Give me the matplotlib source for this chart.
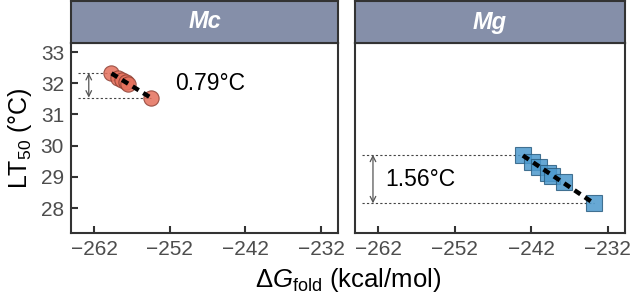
import numpy as np
import matplotlib
matplotlib.use("Agg")
from matplotlib import pyplot as plt

plt.rcParams['font.family'] = ['Liberation Sans', 'DejaVu Sans']
plt.rcParams['mathtext.fontset'] = 'custom'
plt.rcParams['mathtext.rm'] = 'Liberation Sans'
plt.rcParams['mathtext.it'] = 'Liberation Sans:italic'

# Data
panels = ['Mc', 'Mg']
mc_dg = [-259.7, -258.8, -258.3, -257.8, -257.5, -254.5]
mc_lt = [32.33, 32.17, 32.10, 32.03, 31.99, 31.54]
mg_dg = [-243.1, -241.9, -241.0, -239.8, -239.3, -237.7, -233.8]
mg_lt = [29.71, 29.48, 29.32, 29.12, 29.04, 28.82, 28.15]
ranges = ['0.79°C', '1.56°C']
x_ticks = [-262, -252, -242, -232]
y_ticks = [28, 29, 30, 31, 32, 33]

W, H = 630, 298
fig = plt.figure(figsize=(W / 100, H / 100), dpi=100)


def px_box(x0, y0, x1, y1):
    """Pixel box (top-left origin) to figure fraction"""
    return [x0 / W, 1 - y1 / H, (x1 - x0) / W, (y1 - y0) / H]


border = '#333333'
strip_col = '#858FA9'
panel_x = [(71, 338), (355, 625)]
series = [(mc_dg, mc_lt, 'o', '#E5705C', '#8E4135', 11),
          (mg_dg, mg_lt, 's', '#4C99CD', '#2C5F82', 11)]
text_pos = [(-251.3, 32.0), (-261.1, 28.9)]

for i, (x0, x1) in enumerate(panel_x):
    ax = fig.add_axes(px_box(x0, 43, x1, 233))
    dg, lt, mk, fc, ec, ms = series[i]

    # regression line
    k, b = np.polyfit(dg, lt, 1)
    xs = np.array([min(dg), max(dg)])
    ax.plot(xs, k * xs + b, color='black', lw=3.2, ls=(0, (1.6, 1.2)), zorder=4)

    ax.plot(dg, lt, ls='none', marker=mk, ms=ms, mfc=fc, mec=ec, mew=0.8,
            alpha=0.85, zorder=3)

    # range markers
    top, bot = max(lt), min(lt)
    x_top = dg[lt.index(top)]
    x_bot = dg[lt.index(bot)]
    ax.plot([-264.1, x_top], [top, top], color='#444444', lw=0.8, ls=(0, (2, 2)), zorder=1)
    ax.plot([-264.1, x_bot], [bot, bot], color='#444444', lw=0.8, ls=(0, (2, 2)), zorder=1)
    ax.annotate('', xy=(-262.7, top), xytext=(-262.7, bot),
                arrowprops=dict(arrowstyle='<->', color='#555555', lw=0.9,
                                shrinkA=0, shrinkB=0))
    ax.text(text_pos[i][0], text_pos[i][1], ranges[i], fontsize=16.5,
            va='center', ha='left', color='black')

    ax.set_xlim(-265.05, -229.75)
    ax.set_ylim(27.2, 33.29)
    ax.set_xticks(x_ticks)
    ax.set_xticklabels([f'\u2212{abs(t)}' for t in x_ticks])
    ax.set_yticks(y_ticks)
    ax.tick_params(direction='in', length=5, width=1.5, color=border,
                   labelsize=15, labelcolor='#4D4D4D', pad=5)
    if i == 1:
        ax.tick_params(axis='y', left=False, labelleft=False)
    for s in ax.spines.values():
        s.set_color(border)
        s.set_linewidth(1.5)

    # facet strip
    st = fig.add_axes(px_box(x0, 1, x1, 43))
    st.set_facecolor(strip_col)
    st.set_xticks([])
    st.set_yticks([])
    for s in st.spines.values():
        s.set_color(border)
        s.set_linewidth(1.5)
    st.text(0.5, 0.5, panels[i], color='white', fontsize=17, fontweight='bold',
            fontstyle='italic', ha='center', va='center', transform=st.transAxes)

    if i == 0:
        ax.set_ylabel('LT$_{50}$ (°C)', fontsize=18, labelpad=5)

fig.text((71 + 626) / 2 / W, 0.015, r'$\Delta G_{\mathrm{fold}}$ (kcal/mol)',
         fontsize=18.5, ha='center', va='bottom')

fig.savefig('out.png', dpi=100)
